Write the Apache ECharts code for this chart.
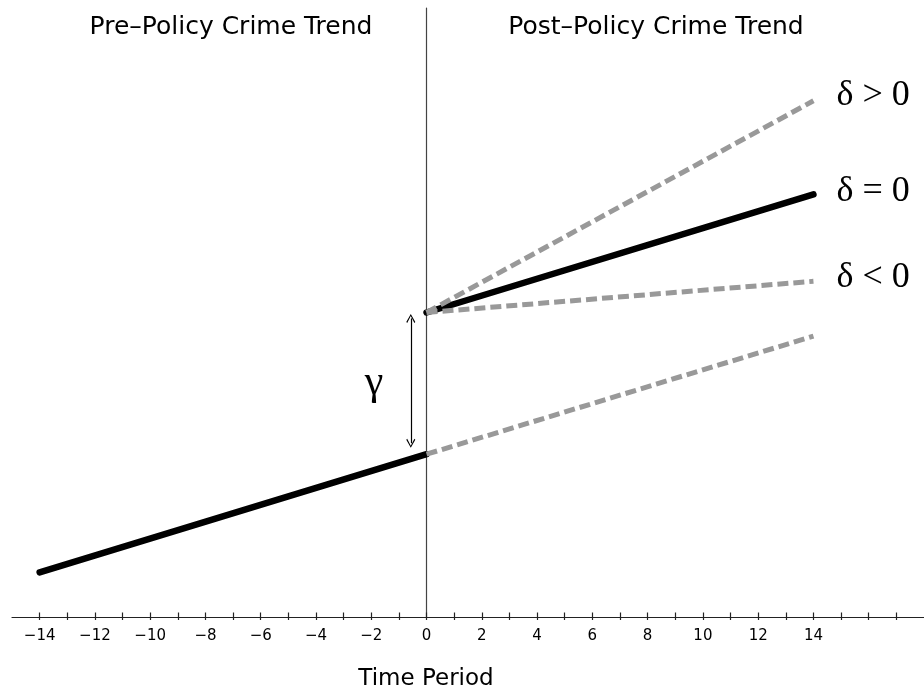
<!DOCTYPE html>
<html>
<head>
<meta charset="utf-8">
<script src="https://cdn.jsdelivr.net/npm/echarts@6/dist/echarts.min.js"></script>
<style>
  html, body { margin: 0; padding: 0; background: #fff; }
  #chart { width: 924px; height: 696px; }
</style>
</head>
<body>
<div id="chart"></div>
<script>
// Time periods (policy introduced at period 0)
const preStart = -14;
const policyStart = 0;
const postEnd = 14;

// Crime level along each trend
const preTrend = [5.3, 19.3];          // observed pre-policy trend, periods -14 .. 0
const counterfactual = [19.3, 33.3];   // continuation of the pre-policy trend, 0 .. 14
const postLevel = 36.1;                // level right after the policy (jump of gamma)
const deltaZeroEnd = 50.1;             // same slope as before
const deltaPosEnd = 61.2;              // steeper slope
const deltaNegEnd = 39.8;              // flatter slope

// Gamma: jump at the policy date
const gammaX = -0.57;
const gammaTop = 35.4;
const gammaBottom = 20.6;

// Axis ticks and labels
const tickLabels = [-14, -12, -10, -8, -6, -4, -2, 0, 2, 4, 6, 8, 10, 12, 14];
const tickMarks = [-14, -13, -12, -11, -10, -9, -8, -7, -6, -5, -4, -3, -2, -1, 0,
                   1, 2, 3, 4, 5, 6, 7, 8, 9, 10, 11, 12, 13, 14, 15, 16, 17];

const sans = 'DejaVu Sans';
const serif = 'Liberation Serif';
const gray = '#999999';

const chart = echarts.init(document.getElementById('chart'), null, { renderer: 'canvas' });

const dashed = { color: gray, width: 5, type: [11, 5], cap: 'butt' };
const solid = { color: '#000', width: 6.5, cap: 'round' };

function deltaLabel(text, dy) {
  return {
    show: true,
    formatter: text,
    fontFamily: serif,
    fontSize: 36,
    color: '#000',
    distance: 23,
    offset: [0, dy]
  };
}

const chevron = 'path://M5,0 L10,9 L9,10 L5,2.2 L1,10 L0,9 Z';

chart.setOption({
  animation: false,
  backgroundColor: '#fff',
  grid: { left: 12, right: 0, top: 8, bottom: 79, containLabel: false },
  xAxis: [
    {
      type: 'value',
      min: -15,
      max: 18,
      position: 'bottom',
      axisLine: { show: true, onZero: false, lineStyle: { color: '#222', width: 1.2 } },
      axisTick: { show: true, inside: false, length: 3, customValues: tickMarks,
                  lineStyle: { color: '#222', width: 1.2 } },
      axisLabel: {
        show: true,
        customValues: tickLabels,
        margin: 12,
        fontFamily: sans,
        fontSize: 15,
        color: '#000',
        formatter: v => String(v).replace('-', '\u2212')
      },
      splitLine: { show: false }
    },
    {
      type: 'value',
      min: -15,
      max: 18,
      position: 'bottom',
      axisLine: { show: false, onZero: false },
      axisTick: { show: true, inside: true, length: 4.5, customValues: tickMarks,
                  lineStyle: { color: '#222', width: 1.2 } },
      axisLabel: { show: false },
      splitLine: { show: false }
    }
  ],
  yAxis: {
    type: 'value',
    min: 0,
    max: 72.2,
    axisLine: { show: true, onZero: true, lineStyle: { color: '#444', width: 1.2 } },
    axisTick: { show: false },
    axisLabel: { show: false },
    splitLine: { show: false }
  },
  graphic: [
    {
      type: 'text', x: 231, y: 27,
      style: { text: 'Pre\u2013Policy Crime Trend', font: '25px "DejaVu Sans"', fill: '#000',
               textAlign: 'center', textVerticalAlign: 'middle' }
    },
    {
      type: 'text', x: 656, y: 27,
      style: { text: 'Post\u2013Policy Crime Trend', font: '25px "DejaVu Sans"', fill: '#000',
               textAlign: 'center', textVerticalAlign: 'middle' }
    },
    {
      type: 'text', x: 426, y: 679,
      style: { text: 'Time Period', font: '23px "DejaVu Sans"', fill: '#000',
               textAlign: 'center', textVerticalAlign: 'middle' }
    },
    {
      type: 'text', x: 374, y: 383,
      style: { text: '\u03B3', font: '42px "Liberation Serif"', fill: '#000',
               textAlign: 'center', textVerticalAlign: 'middle' }
    }
  ],
  series: [
    {
      name: 'Pre-policy trend',
      type: 'line',
      symbol: 'none',
      lineStyle: solid,
      data: [[preStart, preTrend[0]], [policyStart, preTrend[1]]],
      z: 3
    },
    {
      name: 'Counterfactual',
      type: 'line',
      symbol: 'none',
      lineStyle: dashed,
      data: [[policyStart, counterfactual[0]], [postEnd, counterfactual[1]]],
      z: 4,
      markLine: {
        silent: true,
        symbol: [chevron, chevron],
        symbolSize: [9, 9],
        lineStyle: { color: '#000', width: 1.2, type: 'solid' },
        label: { show: false },
        data: [[{ coord: [gammaX, gammaTop] }, { coord: [gammaX, gammaBottom] }]]
      }
    },
    {
      name: 'delta = 0',
      type: 'line',
      symbol: 'none',
      lineStyle: solid,
      data: [[policyStart, postLevel], [postEnd, deltaZeroEnd]],
      endLabel: deltaLabel('\u03B4 = 0', -3),
      z: 3
    },
    {
      name: 'delta > 0',
      type: 'line',
      symbol: 'none',
      lineStyle: dashed,
      data: [[policyStart, postLevel], [postEnd, deltaPosEnd]],
      endLabel: deltaLabel('\u03B4 > 0', -5),
      z: 4
    },
    {
      name: 'delta < 0',
      type: 'line',
      symbol: 'none',
      lineStyle: dashed,
      data: [[policyStart, postLevel], [postEnd, deltaNegEnd]],
      endLabel: deltaLabel('\u03B4 < 0', -4),
      z: 4
    }
  ]
});
</script>
</body>
</html>
